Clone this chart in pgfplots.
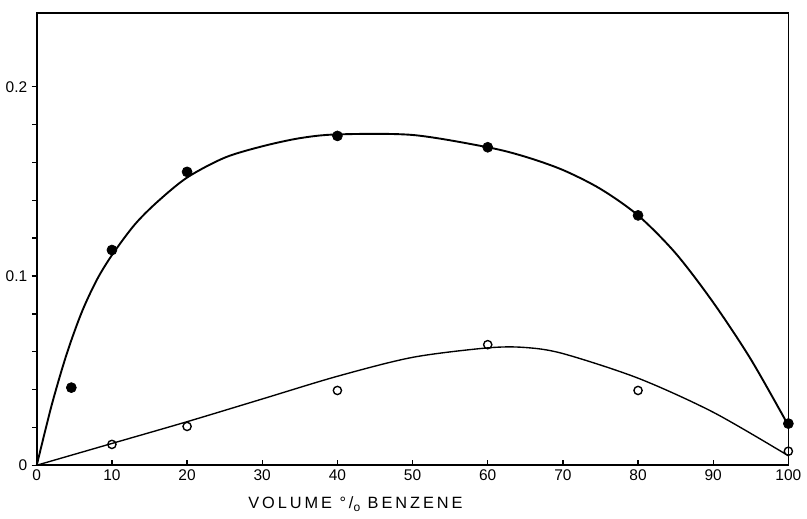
\documentclass[border=0pt]{standalone}
\usepackage{fontspec}
\setmainfont{Liberation Sans}
\usepackage{pgfplots}
\pgfplotsset{compat=1.18}

\begin{document}
\begin{tikzpicture}
\begin{axis}[
    scale only axis,
    width=437pt, height=263pt,
    xmin=0, xmax=100,
    ymin=0, ymax=0.239,
    xtick={0,10,...,100},
    ytick={0,0.1,0.2},
    yticklabels={0,0.1,0.2},
    minor y tick num=4,
    xtick pos=bottom, ytick pos=left,
    xtick align=inside, ytick align=outside,
    major tick length=3pt, minor tick length=2.5pt,
    axis line style={line width=0.9pt},
    tick style={line width=0.8pt, black},
    /pgf/number format/assume math mode=true,
    ticklabel style={font=\fontsize{9}{10}\selectfont},
    xticklabel style={yshift=1pt},
    yticklabel style={xshift=1pt},
    xlabel={\addfontfeatures{LetterSpace=18}VOLUME °/\raisebox{-0.25ex}{\fontsize{7}{8}\selectfont o} BENZENE},
    xlabel style={at={(axis description cs:0.424,0)}, anchor=north, yshift=-15pt, font=\fontsize{9.5}{11}\selectfont},
    clip=false,
]
% fitted curves
\addplot[black, line width=1.1pt, smooth, tension=0.5] coordinates {
    (0,0) (2,0.032) (4,0.059) (6,0.081) (8,0.098) (10,0.111) (13,0.127)
    (16,0.139) (20,0.152) (25,0.1625) (30,0.1685) (35,0.1728) (40,0.1748)
    (50,0.1745) (60,0.168) (65,0.163) (70,0.156) (75,0.146) (80,0.132)
    (85,0.112) (90,0.086) (95,0.056) (100,0.021)
};
\addplot[black, line width=0.8pt, smooth, tension=0.5] coordinates {
    (0,0) (10,0.0115) (20,0.023) (30,0.035) (40,0.047) (50,0.057)
    (60,0.062) (65,0.0622) (70,0.059) (80,0.046) (90,0.028) (100,0.005)
};
% measured points
\addplot[only marks, mark=*, mark size=2.9pt, black] coordinates {
    (4.6,0.041) (10,0.1137) (20,0.155) (40,0.174) (60,0.168) (80,0.132) (100,0.022)
};
\addplot[only marks, mark=o, mark size=2.4pt, black, mark options={fill=white, line width=0.8pt}] coordinates {
    (10,0.011) (20,0.0205) (40,0.0395) (60,0.0637) (80,0.0395) (100,0.0074)
};
\path (rel axis cs:1,1) ++(10pt,7.5pt) coordinate (tr);
\path (rel axis cs:0,0) ++(-21pt,-31pt) coordinate (bl);
\useasboundingbox (bl) rectangle (tr);
\end{axis}
\end{tikzpicture}
\end{document}
